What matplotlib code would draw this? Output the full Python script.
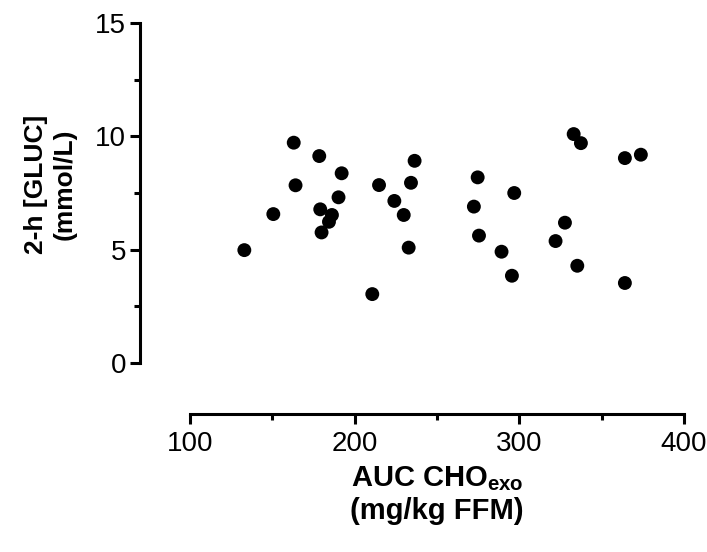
import matplotlib
matplotlib.use("Agg")
import matplotlib.pyplot as plt
from matplotlib.ticker import MultipleLocator

plt.rcParams['font.family'] = ['Liberation Sans', 'DejaVu Sans']
plt.rcParams['mathtext.fontset'] = 'custom'
plt.rcParams['mathtext.rm'] = 'Liberation Sans'
plt.rcParams['mathtext.bf'] = 'Liberation Sans:bold'

auc_cho_exo = [133, 150.6, 163, 164.1, 178.5, 179.1, 179.9, 186.2, 184.4, 192.1,
               190.2, 210.7, 214.8, 224.1, 229.8, 234.2, 232.8, 236.4, 274.7, 272.4,
               275.5, 296.9, 289.2, 295.5, 333, 337.4, 327.7, 322, 335.2, 364.1,
               373.8, 364.1]
gluc_2h = [4.98, 6.57, 9.72, 7.84, 9.13, 6.78, 5.76, 6.53, 6.23, 8.37,
           7.31, 3.04, 7.85, 7.15, 6.53, 7.95, 5.09, 8.92, 8.19, 6.90,
           5.62, 7.50, 4.91, 3.85, 10.10, 9.70, 6.19, 5.38, 4.29, 9.04,
           9.19, 3.53]
x_ticks = [100, 200, 300, 400]
y_ticks = [0, 5, 10, 15]

W, H = 707, 552
fig = plt.figure(figsize=(W / 100, H / 100), dpi=100)
ax = fig.add_axes([140 / W, 1 - 414 / H, (684 - 140) / W, (414 - 23) / H])

ax.scatter(auc_cho_exo, gluc_2h, s=100, color='black', edgecolors='none',
           clip_on=False, zorder=3)

ax.set_xlim(100 - 50 / 1.647, 400)
ax.set_ylim(-51 / 22.67, 15)

for s in ['top', 'right']:
    ax.spines[s].set_visible(False)
ax.spines['left'].set_bounds(0, 15)
ax.spines['bottom'].set_bounds(100, 400)
for s in ['left', 'bottom']:
    ax.spines[s].set_linewidth(2.2)
    ax.spines[s].set_capstyle('projecting')

ax.set_xticks(x_ticks)
ax.set_yticks(y_ticks)
ax.xaxis.set_minor_locator(MultipleLocator(50))
ax.yaxis.set_minor_locator(MultipleLocator(2.5))
ax.tick_params(which='major', length=7, width=2.2, labelsize=20, color='black')
ax.tick_params(which='minor', length=4, width=2.2, color='black')
ax.tick_params(axis='x', which='major', pad=5)
ax.tick_params(axis='y', which='major', pad=3)

ax.set_ylabel("2-h [GLUC]\n(mmol/L)", fontsize=19, fontweight='bold',
              multialignment='center', linespacing=1.25)
ax.yaxis.set_label_coords(-(140 - 77) / (684 - 140), (414 - 184) / (414 - 23))

ax.set_xlabel(r"AUC CHO$_{\mathbf{exo}}$" + "\n(mg/kg FFM)", fontsize=21,
              fontweight='bold', multialignment='center', linespacing=1.2)
ax.xaxis.set_label_coords((437 - 140) / (684 - 140), -(464 - 414) / (414 - 23))

fig.savefig("out.png", dpi=100)
